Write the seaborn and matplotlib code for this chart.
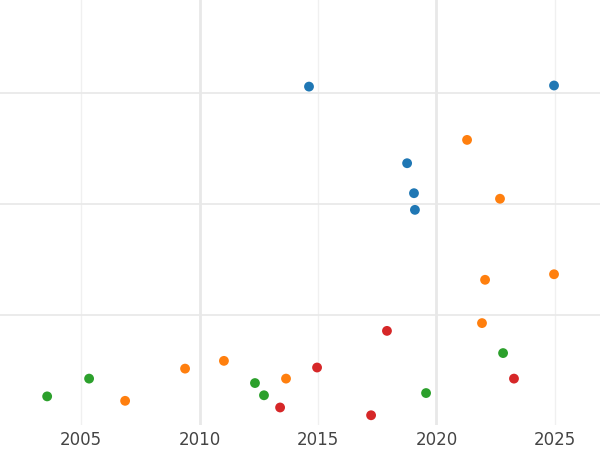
import matplotlib
matplotlib.use("Agg")
import matplotlib.pyplot as plt
import seaborn as sns
import pandas as pd

blue_x = [2014.62, 2024.96, 2018.76, 2019.05, 2019.09]
blue_y = [3.06, 3.07, 2.37, 2.10, 1.95]
orange_x = [2021.29, 2022.68, 2022.05, 2024.96, 2021.92, 2011.03, 2009.39, 2013.65, 2006.86]
orange_y = [2.58, 2.05, 1.32, 1.37, 0.93, 0.59, 0.52, 0.43, 0.23]
green_x = [2003.57, 2005.34, 2012.34, 2012.72, 2019.56, 2022.81]
green_y = [0.27, 0.43, 0.39, 0.28, 0.30, 0.66]
red_x = [2017.91, 2014.96, 2013.40, 2017.24, 2023.27]
red_y = [0.86, 0.53, 0.17, 0.10, 0.43]

groups = ["a", "b", "c", "d"]
df = pd.concat([
    pd.DataFrame({"x": xs, "y": ys, "g": g})
    for xs, ys, g in zip([blue_x, orange_x, green_x, red_x],
                         [blue_y, orange_y, green_y, red_y], groups)
])

fig = plt.figure(figsize=(6, 4.5), dpi=100)
ax = fig.add_axes([0, 0.055, 1, 0.945])
sns.scatterplot(data=df, x="x", y="y", hue="g", palette="tab10", s=50,
                edgecolor="none", legend=False, ax=ax, zorder=3)

ax.set_xlim(2001.58, 2026.9)
ax.set_ylim(0.01, 3.84)
for xv in [2010, 2020]:
    ax.axvline(xv, color="#e8e8e8", lw=2, zorder=0)
for xv in [2005, 2015, 2025]:
    ax.axvline(xv, color="#f0f0f0", lw=1, zorder=0)
for yv in [1, 2, 3]:
    ax.axhline(yv, color="#e8e8e8", lw=1.2, zorder=0)
ax.set_xticks([2005, 2010, 2015, 2020, 2025])
ax.set_yticks([])
ax.tick_params(axis="x", length=0, labelsize=12, colors="#444444", pad=4)
ax.set_xlabel("")
ax.set_ylabel("")
for s in ax.spines.values():
    s.set_visible(False)
fig.savefig("out.png", dpi=100)
